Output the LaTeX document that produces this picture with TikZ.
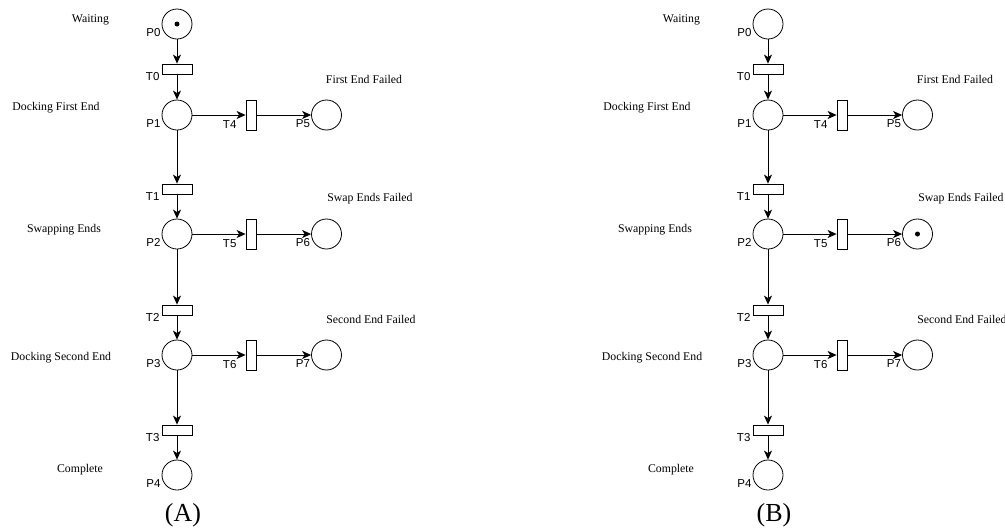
\documentclass[tikz,border=0pt]{standalone}
\usepackage{fontspec}
\setmainfont{Liberation Serif}
\setsansfont{Liberation Sans}
\usetikzlibrary{arrows.meta,positioning,calc}

% one copy of the net, #1 = name prefix
\newcommand{\dockingnet}[1]{%
  % Places
  \node[place] (#1p0) at (177,24) {};
  \node[place] (#1p1) at (177,115) {};
  \node[place] (#1p2) at (177,234) {};
  \node[place] (#1p3) at (177,355) {};
  \node[place] (#1p4) at (177,475) {};
  \node[place] (#1p5) at (326.5,115) {};
  \node[place] (#1p6) at (326.5,234) {};
  \node[place] (#1p7) at (326.5,355) {};
  % Transitions
  \node[htrans] (#1t0) at (177,69) {};
  \node[htrans] (#1t1) at (177,189) {};
  \node[htrans] (#1t2) at (177,310) {};
  \node[htrans] (#1t3) at (177,430) {};
  \node[vtrans] (#1t4) at (251,115) {};
  \node[vtrans] (#1t5) at (251,234) {};
  \node[vtrans] (#1t6) at (251,355) {};
  % Place and transition names
  \node[plbl] (#1p0l) at (#1p0.west) {P0};
  \node[plbl] (#1p1l) at (#1p1.west) {P1};
  \node[plbl] (#1p2l) at (#1p2.west) {P2};
  \node[plbl] (#1p3l) at (#1p3.west) {P3};
  \node[plbl] (#1p4l) at (#1p4.west) {P4};
  \node[plbl] (#1p5l) at (#1p5.west) {P5};
  \node[plbl] (#1p6l) at (#1p6.west) {P6};
  \node[plbl] (#1p7l) at (#1p7.west) {P7};
  \node[htlbl] (#1t0l) at (#1t0.south west) {T0};
  \node[htlbl] (#1t1l) at (#1t1.south west) {T1};
  \node[htlbl] (#1t2l) at (#1t2.south west) {T2};
  \node[htlbl] (#1t3l) at (#1t3.south west) {T3};
  \node[vtlbl] (#1t4l) at (#1t4.west) {T4};
  \node[vtlbl] (#1t5l) at (#1t5.west) {T5};
  \node[vtlbl] (#1t6l) at (#1t6.west) {T6};
  % State descriptions
  \node[statetext] (#1waiting) at (90.5,20) {Waiting};
  \node[statetext] (#1dockfirst) at (56,108) {Docking First End};
  \node[statetext] (#1firstfail) at (364,79) {First End Failed};
  \node[statetext] (#1swapping) at (64,230) {Swapping Ends};
  \node[statetext] (#1swapfail) at (370,199) {Swap Ends Failed};
  \node[statetext] (#1docksecond) at (61,358) {Docking Second End};
  \node[statetext] (#1secondfail) at (371,319) {Second End Failed};
  \node[statetext] (#1complete) at (80,470) {Complete};
  % Arcs, main line
  \draw[arrow] (#1p0) -- (#1t0);
  \draw[arrow] (#1t0) -- (#1p1);
  \draw[arrow] (#1p1) -- (#1t1);
  \draw[arrow] (#1t1) -- (#1p2);
  \draw[arrow] (#1p2) -- (#1t2);
  \draw[arrow] (#1t2) -- (#1p3);
  \draw[arrow] (#1p3) -- (#1t3);
  \draw[arrow] (#1t3) -- (#1p4);
  % Arcs, failure branches
  \draw[arrow] (#1p1) -- (#1t4);
  \draw[arrow] (#1t4) -- (#1p5);
  \draw[arrow] (#1p2) -- (#1t5);
  \draw[arrow] (#1t5) -- (#1p6);
  \draw[arrow] (#1p3) -- (#1t6);
  \draw[arrow] (#1t6) -- (#1p7);
}

\begin{document}
\begin{tikzpicture}[x=1pt, y=-1pt,
    place/.style={circle, draw, line width=0.8pt, minimum size=30pt, inner sep=0pt},
    htrans/.style={rectangle, draw, line width=0.8pt, minimum width=30pt, minimum height=10pt, inner sep=0pt},
    vtrans/.style={rectangle, draw, line width=0.8pt, minimum width=10pt, minimum height=30pt, inner sep=0pt},
    token/.style={circle, fill, minimum size=5pt, inner sep=0pt},
    arrow/.style={-{Stealth[length=9pt, width=8pt, inset=2.5pt]}, line width=0.8pt},
    plbl/.style={anchor=north east, inner sep=0pt, xshift=-1pt, yshift=-4pt, font=\sffamily\fontsize{11.5}{12}\selectfont},
    htlbl/.style={anchor=north east, inner sep=0pt, xshift=-2pt, yshift=2pt, font=\sffamily\fontsize{11.5}{12}\selectfont},
    vtlbl/.style={anchor=north east, inner sep=0pt, xshift=-9pt, yshift=-5pt, font=\sffamily\fontsize{11.5}{12}\selectfont},
    statetext/.style={inner sep=0pt, font=\fontsize{11.8}{13}\selectfont},
    tag/.style={inner sep=0pt, font=\fontsize{26}{28}\selectfont}
]
\useasboundingbox (0,0) rectangle (1005,531);

% (A): token in P0
\dockingnet{A}
\node[token] (Atok) at (Ap0) {};
\node[tag] (Atag) at (183,515) {(A)};

% (B): token in P6
\begin{scope}[xshift=591pt]
\dockingnet{B}
\node[token] (Btok) at (Bp6) {};
\node[tag] (Btag) at (183,515) {(B)};
\end{scope}
\end{tikzpicture}
\end{document}
